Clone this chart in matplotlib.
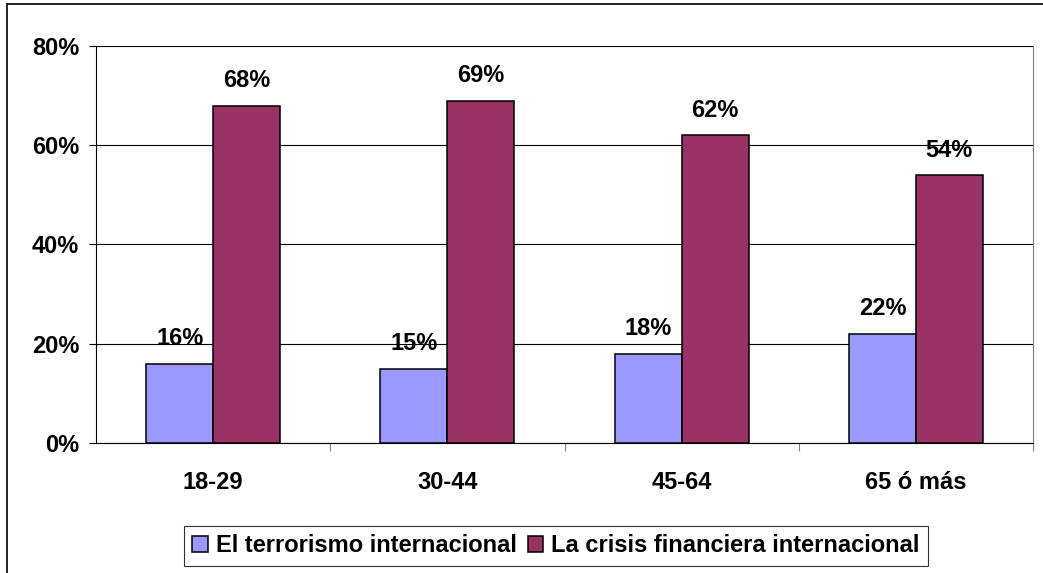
import matplotlib
matplotlib.use("Agg")
import matplotlib.pyplot as plt
from matplotlib.lines import Line2D
import numpy as np

categories = ["18-29", "30-44", "45-64", "65 ó más"]
terrorismo = [16, 15, 18, 22]
crisis = [68, 69, 62, 54]
series_names = ["El terrorismo internacional", "La crisis financiera internacional"]
yticks = [0, 20, 40, 60, 80]

W, H = 1043, 573
fig = plt.figure(figsize=(W / 100, H / 100), dpi=100)
plt.rcParams['font.family'] = ['Liberation Sans', 'DejaVu Sans']
FS = 17

ax = fig.add_axes([96 / W, 1 - 443 / H, (1033 - 96) / W, (443 - 46) / H])

x = np.arange(len(categories))
bw = 1 / 3.5
b1 = ax.bar(x - bw / 2, terrorismo, bw, color="#9999FF", edgecolor="black", linewidth=1.1, zorder=3,
            label=series_names[0])
b2 = ax.bar(x + bw / 2, crisis, bw, color="#993366", edgecolor="black", linewidth=1.1, zorder=3,
            label=series_names[1])

for bars, vals in ((b1, terrorismo), (b2, crisis)):
    for r, v in zip(bars, vals):
        ax.annotate(f"{v}%", (r.get_x() + r.get_width() / 2, v), xytext=(0, 25),
                    textcoords="offset pixels", ha="center", va="center",
                    fontsize=FS, fontweight="bold", zorder=4)

ax.set_xlim(-0.5, len(categories) - 0.5)
ax.set_ylim(0, 80)
ax.set_yticks(yticks)
ax.set_yticklabels([f"{t}%" for t in yticks], fontsize=FS, fontweight="bold")
ax.yaxis.grid(True, color="black", linewidth=0.8, zorder=0)
ax.tick_params(axis="y", length=5, width=0.8, pad=7, direction="out")

ax.set_xticks(x)
ax.set_xticklabels(categories, fontsize=FS, fontweight="bold")
ax.tick_params(axis="x", which="major", length=0, pad=20)
ax.set_xticks(np.arange(0.5, len(categories) - 0.5 + 0.01, 1), minor=True)
ax.tick_params(axis="x", which="minor", length=6, width=0.8, color="gray", direction="out")

for s in ("left", "bottom"):
    ax.spines[s].set_color("black")
    ax.spines[s].set_linewidth(0.8)
ax.spines["top"].set_visible(False)
ax.spines["right"].set_color("gray")
ax.spines["right"].set_linewidth(0.8)

leg = fig.legend(handles=[b1, b2], loc="center", bbox_to_anchor=(556 / W, 1 - 546 / H),
                 ncol=2, frameon=True, fancybox=False, edgecolor="black",
                 prop={"size": FS, "weight": "bold"}, handlelength=0.65, handleheight=0.65,
                 handletextpad=0.35, columnspacing=0.45, borderpad=0.35, borderaxespad=0)
leg.get_frame().set_linewidth(0.8)

fig.add_artist(Line2D([7 / W, 7 / W], [0, 1 - 4 / H], color="black", linewidth=1.2))
fig.add_artist(Line2D([7 / W, 1], [1 - 4 / H, 1 - 4 / H], color="black", linewidth=1.2))

fig.savefig("out.png", dpi=100)
